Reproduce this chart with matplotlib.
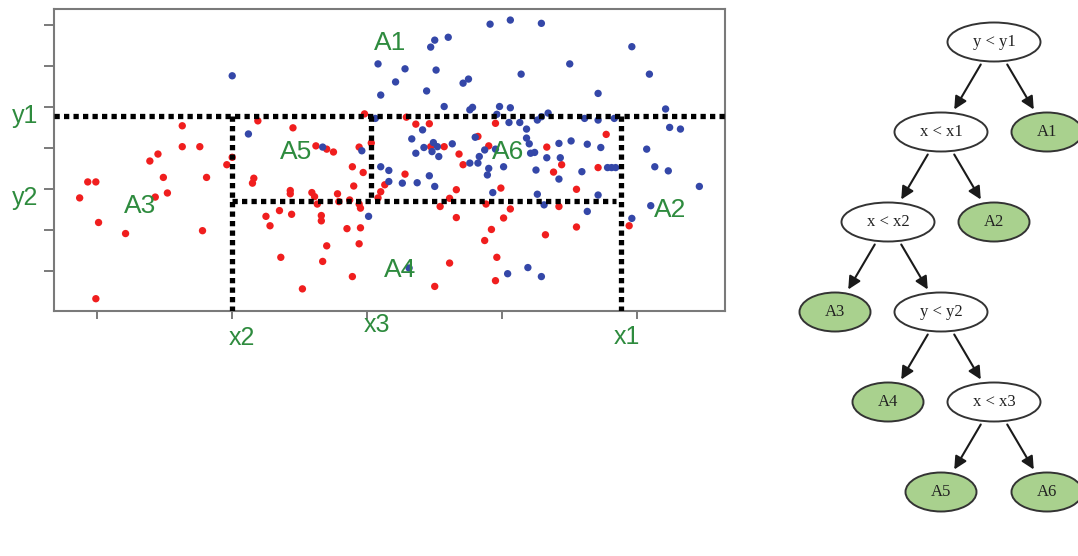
import matplotlib.pyplot as plt
from matplotlib.patches import Ellipse, FancyArrowPatch
from matplotlib import transforms

# scatter data (red / blue classes)
red_x = [6.3, 6.3, 7.6, 4.5, 3.9, 9.6, 10.0, -0.7, -0.1, 4.9,
         8.1, -1.3, 4.3, 5.2, 0.1, 2.1, 7.8, -0.1, 11.6, 11.5,
         11.9, 14.5, 16.2, 17.0, 17.5, 19.4, 18.9, 19.7, 19.0, 14.3,
         14.3, 15.9, 16.1, 16.3, 17.8, 17.9, 18.7, 19.4, 19.5, 21.3,
         21.0, 12.5, 12.8, 13.5, 14.4, 16.6, 16.6, 18.5, 19.5, 17.0,
         19.4, 13.6, 16.7, 18.9, 15.2, 19.8, 22.9, 23.6, 24.6, 24.7,
         25.7, 26.8, 29.5, 28.2, 37.7, 33.3, 29.0, 34.4, 33.8, 37.1,
         29.9, 35.5, 30.6, 30.1, 34.2, 29.2, 35.5, 33.2, 29.6, 29.5,
         39.4, 27.1, 22.8, 20.8, 26.6, 26.1, 25.4, 28.8, 26.6, 28.7,
         26.1, 25.0, 20.3]
red_y = [35.4, 30.3, 30.3, 28.5, 26.8, 25.9, 27.7, 21.7, 21.7, 22.8,
         22.8, 17.8, 18.0, 19.0, 11.8, 9.1, 9.8, -6.8, 22.6, 21.4,
         36.6, 34.9, 30.5, 29.7, 29.0, 30.2, 25.4, 24.0, 20.7, 19.6,
         18.8, 19.1, 18.1, 16.3, 18.8, 16.9, 17.3, 16.3, 15.3, 21.0,
         19.3, 13.3, 11.0, 14.7, 13.8, 13.5, 12.2, 10.3, 10.5, 6.1,
         6.6, 3.3, 2.3, -1.4, -4.4, 38.3, 37.5, 35.8, 35.9, 30.3,
         30.3, 28.5, 36.0, 32.8, 33.3, 30.2, 30.5, 25.9, 24.1, 25.2,
         20.2, 19.9, 15.1, 12.9, 15.7, 10.1, 10.7, 8.8, 3.3, -2.4,
         11.0, 25.9, 23.6, 17.8, 19.8, 17.7, 15.7, 16.3, 13.0, 7.4,
         1.9, -3.8, 31.2]

blue_x = [10.0, 11.2, 20.8, 21.0, 16.7, 19.6, 20.6, 21.0, 21.6, 21.6,
          20.1, 29.1, 26.0, 25.0, 24.7, 22.8, 25.1, 22.1, 24.4, 27.1,
          27.5, 25.7, 27.6, 27.8, 29.8, 24.1, 23.3, 24.2, 24.9, 25.2,
          24.8, 25.3, 26.3, 28.0, 28.3, 30.6, 32.9, 39.6, 35.0, 31.4,
          40.9, 37.1, 30.6, 33.4, 32.9, 32.6, 29.6, 30.5, 31.3, 36.1,
          37.1, 38.3, 42.1, 42.4, 43.2, 31.8, 31.8, 32.0, 34.2, 35.1,
          36.3, 37.3, 40.7, 32.1, 32.4, 33.3, 34.3, 30.1, 32.5, 35.9,
          34.2, 37.8, 38.1, 38.4, 41.3, 42.3, 44.6, 29.3, 32.6, 33.1,
          37.1, 36.3, 41.0, 39.6, 31.9, 30.4, 32.9, 23.6, 22.6, 23.7,
          24.6, 25.0, 27.6, 28.2, 29.0, 28.9, 28.7, 29.5, 23.1]
blue_y = [47.6, 33.4, 50.5, 42.9, 30.2, 29.3, 37.2, 25.4, 24.5, 21.8,
          13.3, 60.2, 57.0, 56.3, 54.6, 49.3, 49.0, 46.1, 43.9, 45.8,
          46.8, 40.1, 39.3, 39.9, 40.1, 34.4, 32.2, 30.1, 31.3, 30.3,
          29.1, 27.9, 31.0, 32.6, 27.9, 61.2, 60.4, 54.7, 50.5, 48.0,
          48.0, 43.3, 39.8, 38.5, 37.6, 36.8, 38.2, 36.2, 36.2, 37.2,
          36.8, 37.2, 39.5, 35.0, 34.6, 34.6, 32.4, 31.0, 31.1, 31.7,
          30.9, 30.1, 29.7, 28.7, 28.9, 27.6, 27.6, 25.4, 24.6, 24.2,
          22.4, 25.2, 25.2, 25.2, 25.4, 24.4, 20.6, 19.1, 18.7, 16.1,
          18.5, 14.5, 15.9, 12.8, 0.8, -0.7, -1.4, 28.7, 21.4, 21.5,
          23.2, 20.6, 26.3, 26.3, 25.0, 23.4, 29.5, 29.7, 0.7]

# split values
x1, x2, x3 = 38.8, 10.0, 20.3
y1, y2 = 37.8, 17.1

region_names = ["A1", "A2", "A3", "A4", "A5", "A6"]
region_x = [21.7, 42.4, 3.2, 22.4, 14.7, 30.4]
region_y = [55.5, 14.9, 15.9, 0.2, 29.0, 29.0]

# decision tree: label, parent index, side (-1 left / +1 right)
node_labels = ["y < y1", "x < x1", "A1", "x < x2", "A2", "A3", "y < y2",
               "A4", "x < x3", "A5", "A6"]
node_parent = [None, 0, 0, 1, 1, 3, 3, 6, 6, 8, 8]
node_side = [0, -1, 1, -1, 1, -1, 1, -1, 1, -1, 1]

green = '#2e8b3e'
red = '#f01e1e'
blue = '#3447a8'

fig = plt.figure(figsize=(10.78, 5.56), dpi=100)
ax = fig.add_axes([54/1078, 1 - 311/556, 671/1078, 302/556])

ax.scatter(red_x, red_y, s=28, color=red, edgecolors='none', zorder=2)
ax.scatter(blue_x, blue_y, s=28, color=blue, edgecolors='none', zorder=2)

ax.set_xlim(-3.2, 46.5)
ax.set_ylim(-9.8, 63.9)

dot = dict(color='black', linewidth=3.8, dashes=(1, 0.8), zorder=3,
           solid_capstyle='butt', dash_capstyle='butt')
ax.plot([-3.2, 46.5], [y1, y1], **dot)
ax.plot([x2, x2], [y1, -9.8], **dot)
ax.plot([x1, x1], [y1, -9.8], **dot)
ax.plot([x2, x1 - 0.4], [y2, y2], **dot)
ax.plot([x3, x3], [y1, y2], **dot)

ax.set_xticks([0, 10, 20, 30, 40])
ax.set_yticks([0, 10, 20, 30, 40, 50, 60])
ax.set_xticklabels([])
ax.set_yticklabels([])
ax.tick_params(axis='y', direction='out', length=7.5, width=1.3, color='#707070')
ax.tick_params(axis='x', direction='out', length=6, width=1.3, color='#707070')
for sp in ax.spines.values():
    sp.set_color('#7a7a7a')
    sp.set_linewidth(1.5)

lab_font = dict(color=green, fontsize=18, family=['Liberation Sans', 'DejaVu Sans'])
ty = transforms.blended_transform_factory(ax.transAxes, ax.transData)
tx = transforms.blended_transform_factory(ax.transData, ax.transAxes)
ax.text(-0.043, y1, "y1", transform=ty, ha='center', va='center', **lab_font)
ax.text(-0.043, y2 + 0.7, "y2", transform=ty, ha='center', va='center', **lab_font)
ax.text(x2 + 0.7, -0.09, "x2", transform=tx, ha='center', va='center', **lab_font)
ax.text(x3 + 0.4, -0.045, "x3", transform=tx, ha='center', va='center', **lab_font)
ax.text(x1 + 0.4, -0.087, "x1", transform=tx, ha='center', va='center', **lab_font)

for name, rx, ry in zip(region_names, region_x, region_y):
    ax.text(rx, ry, name, ha='center', va='center', zorder=4,
            color=green, fontsize=19, family=['Liberation Sans', 'DejaVu Sans'])

# tree drawn in pixel units on its own axes
tax = fig.add_axes([780/1078, 0, 298/1078, 1])
tax.set_xlim(780, 1078)
tax.set_ylim(556, 0)
tax.axis('off')

pos = []
for i, p in enumerate(node_parent):
    if p is None:
        pos.append((994, 42))
    else:
        px, py = pos[p]
        pos.append((px + 53 * node_side[i], py + 90))

for i, lab in enumerate(node_labels):
    leaf = lab.startswith("A")
    w = 71 if leaf else 93
    e = Ellipse(pos[i], w, 39, facecolor='#a9d18e' if leaf else 'white',
                edgecolor='#333333', linewidth=1.4, zorder=2)
    tax.add_patch(e)
    tax.text(pos[i][0], pos[i][1], lab, ha='center', va='center', fontsize=12,
             color='#222222', family=['Liberation Serif', 'DejaVu Serif'], zorder=3)

for i, p in enumerate(node_parent):
    if p is None:
        continue
    (px, py), (cx, cy) = pos[p], pos[i]
    start = (px + 0.25 * (cx - px), py + 0.25 * (cy - py))
    end = (px + 0.75 * (cx - px), py + 0.75 * (cy - py))
    arr = FancyArrowPatch(start, end, arrowstyle='-|>', mutation_scale=19,
                          color='#1a1a1a', linewidth=1.5, shrinkA=0, shrinkB=0)
    tax.add_patch(arr)

plt.savefig("out.png", dpi=100)
